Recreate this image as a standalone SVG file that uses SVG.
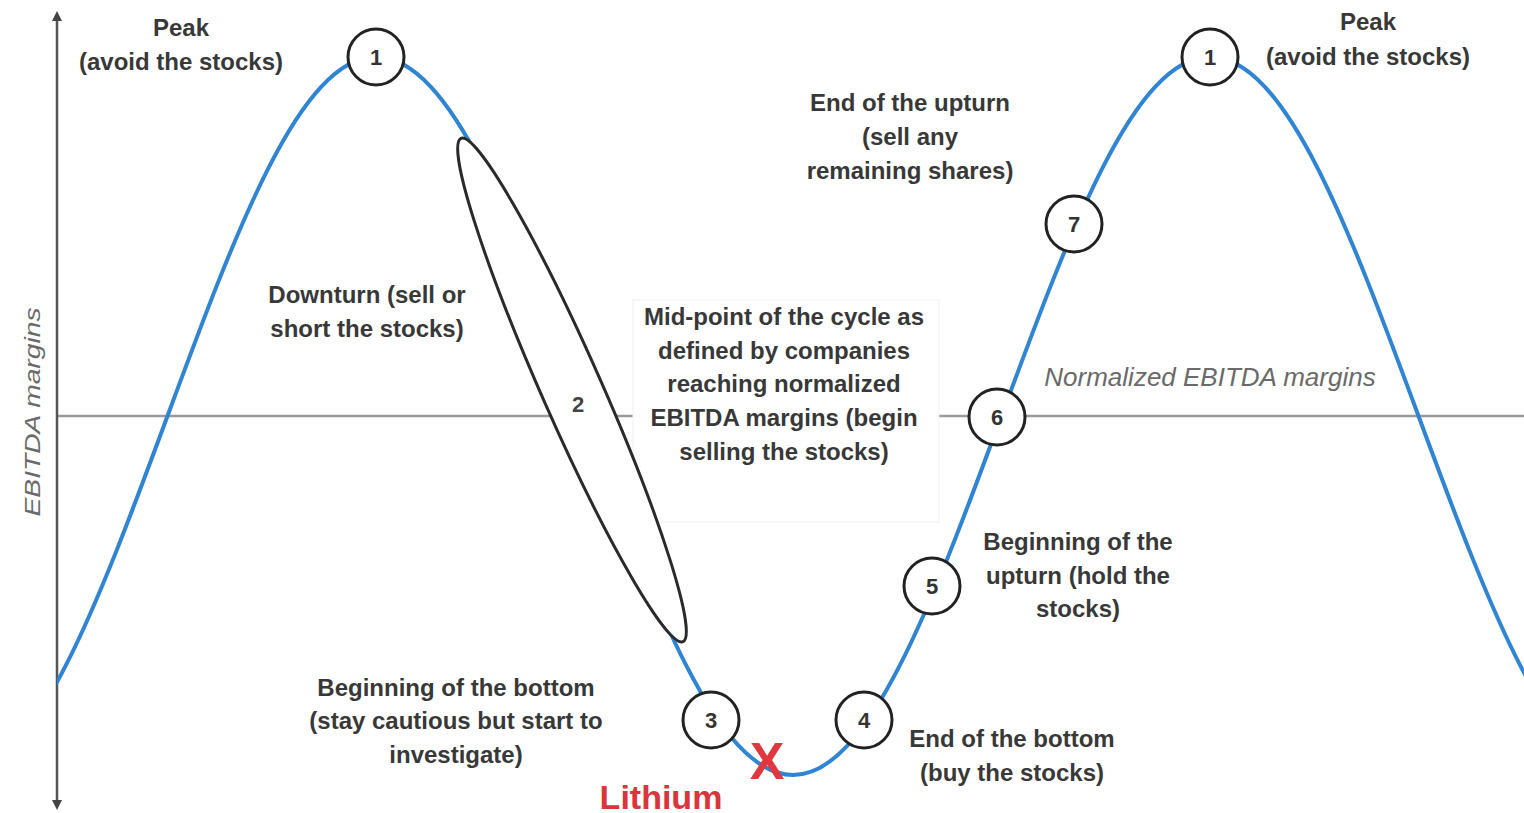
<svg xmlns="http://www.w3.org/2000/svg" width="1524" height="813" viewBox="0 0 1524 813">
<style>
.lbl{font-family:"Liberation Sans",Arial,sans-serif;font-weight:bold;font-size:24px;fill:#383838;text-anchor:middle}
.num{font-family:"Liberation Sans",Arial,sans-serif;font-weight:bold;font-size:22px;fill:#333;text-anchor:middle}
.circ{fill:#fff;stroke:#222;stroke-width:3}
.ital{font-family:"Liberation Sans",Arial,sans-serif;font-style:italic;font-size:26px;fill:#6a6a6a;text-anchor:middle}
</style>
<defs>
<clipPath id="plot"><rect x="57" y="0" width="1467" height="813"/></clipPath>
<marker id="ah" viewBox="0 0 10 10" refX="5" refY="5" markerWidth="4" markerHeight="4" orient="auto-start-reverse"><path d="M0,0 L10,5 L0,10 z" fill="#444"/></marker>
</defs>
<rect width="1524" height="813" fill="#fff"/>
<g id="connectors">
<line x1="57" y1="416" x2="1524" y2="416" stroke="#9a9a9a" stroke-width="2.5"/>
<line x1="57" y1="805" x2="57" y2="16" stroke="#555" stroke-width="2.5" marker-end="url(#ah)" marker-start="url(#ah)"/>
<path clip-path="url(#plot)" fill="none" stroke="#2f84d4" stroke-width="4" d="M -41 775 C 34.5 775 97.8 604.5 167.5 416 C 237.2 227.5 300.5 57 376 57 C 451.5 57 514.8 227.5 584.5 416 C 654.2 604.5 717.5 775 793 775 C 868.5 775 931.8 604.5 1001.5 416 C 1071.2 227.5 1134.5 57 1210 57 C 1285.5 57 1348.8 227.5 1418.5 416 C 1488.2 604.5 1551.5 775 1627 775"/>
</g>
<g id="axis-label"><text class="ital" transform="translate(40,412) rotate(-90)" style="font-size:22px" textLength="209" lengthAdjust="spacingAndGlyphs">EBITDA margins</text></g>
<g id="normal-label"><text class="ital" x="1210" y="386">Normalized EBITDA margins</text></g>
<g id="midpoint-box">
<rect x="633" y="300" width="306" height="222" fill="#fff" stroke="#f0f0f0" stroke-width="1"/>
<text class="lbl" x="784" y="325">Mid-point of the cycle as</text>
<text class="lbl" x="784" y="359">defined by companies</text>
<text class="lbl" x="784" y="392">reaching normalized</text>
<text class="lbl" x="784" y="426">EBITDA margins (begin</text>
<text class="lbl" x="784" y="460">selling the stocks)</text>
</g>
<g id="node2">
<ellipse cx="572" cy="390" rx="275" ry="30" transform="rotate(66.2 572 390)" fill="#fff" stroke="#2a2a2a" stroke-width="3"/>
<text class="num" x="578" y="412" style="fill:#444">2</text>
</g>
<g id="node1-left">
<circle class="circ" cx="376" cy="57" r="28"/>
<text class="num" x="376" y="65">1</text>
<text class="lbl" x="181" y="36">Peak</text>
<text class="lbl" x="181" y="70">(avoid the stocks)</text>
</g>
<g id="node1-right">
<circle class="circ" cx="1210" cy="57" r="28"/>
<text class="num" x="1210" y="65">1</text>
<text class="lbl" x="1368" y="30">Peak</text>
<text class="lbl" x="1368" y="65">(avoid the stocks)</text>
</g>
<g id="downturn">
<text class="lbl" x="367" y="303">Downturn (sell or</text>
<text class="lbl" x="367" y="337">short the stocks)</text>
</g>
<g id="node3">
<circle class="circ" cx="711" cy="720" r="28"/>
<text class="num" x="711" y="728">3</text>
<text class="lbl" x="456" y="696">Beginning of the bottom</text>
<text class="lbl" x="456" y="729">(stay cautious but start to</text>
<text class="lbl" x="456" y="763">investigate)</text>
</g>
<g id="node4">
<circle class="circ" cx="864" cy="720" r="28"/>
<text class="num" x="864" y="728">4</text>
<text class="lbl" x="1012" y="747">End of the bottom</text>
<text class="lbl" x="1012" y="781">(buy the stocks)</text>
</g>
<g id="node5">
<circle class="circ" cx="932" cy="586" r="28"/>
<text class="num" x="932" y="594">5</text>
<text class="lbl" x="1078" y="550">Beginning of the</text>
<text class="lbl" x="1078" y="584">upturn (hold the</text>
<text class="lbl" x="1078" y="617">stocks)</text>
</g>
<g id="node6">
<circle class="circ" cx="997" cy="417" r="28"/>
<text class="num" x="997" y="425">6</text>
</g>
<g id="node7">
<circle class="circ" cx="1074" cy="224" r="28"/>
<text class="num" x="1074" y="232">7</text>
<text class="lbl" x="910" y="111">End of the upturn</text>
<text class="lbl" x="910" y="145">(sell any</text>
<text class="lbl" x="910" y="179">remaining shares)</text>
</g>
<g id="lithium">
<text x="767" y="779" style="font-family:'Liberation Sans',Arial,sans-serif;font-weight:bold;font-size:52px;fill:#e0383e;text-anchor:middle">X</text>
<text x="661" y="809" style="font-family:'Liberation Sans',Arial,sans-serif;font-weight:bold;font-size:34px;fill:#d8363c;text-anchor:middle">Lithium</text>
</g>
</svg>
